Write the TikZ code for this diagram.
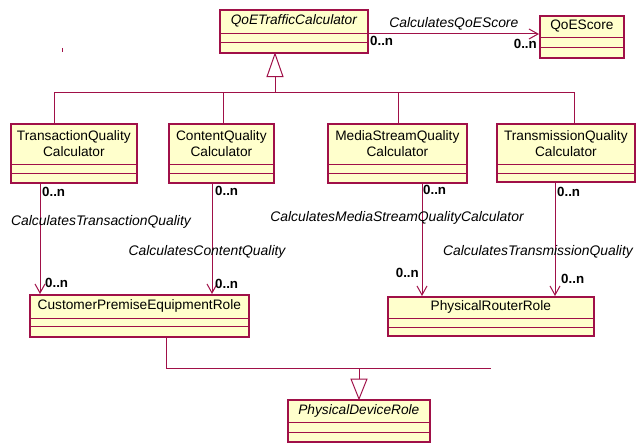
\documentclass[tikz,border=0pt]{standalone}
\usepackage{fontspec}
\setmainfont{Liberation Sans}
\usetikzlibrary{arrows.meta,calc}
\definecolor{umlred}{RGB}{160,16,72}
\definecolor{umlfill}{RGB}{255,255,204}
\tikzset{
 box/.style={draw=umlred, line width=1.7pt, fill=umlfill, inner sep=0pt, anchor=north west},
 sepline/.style={draw=umlred, line width=0.9pt},
 clsname/.style={inner sep=0pt, align=center, font=\fontsize{13.7}{16}\selectfont},
 conn/.style={draw=umlred, line width=1pt},
 assoc/.style={conn, -{Straight Barb[length=9pt,width=10pt,line width=1pt]}},
 gentri/.style={draw=umlred, line width=1pt, fill=white},
 lbl/.style={inner sep=0pt, font=\fontsize{13.9}{16}\selectfont\itshape},
 mult/.style={inner sep=0pt, font=\fontsize{13.3}{15}\selectfont\bfseries},
}
\newcommand\classbox[8]{%
 \node[box, minimum width=#4pt, minimum height={(#5+#6+#7)*1pt}] (#1) at (#2,#3) {};
 \node[clsname] (#1-name) at ([yshift={-(#5)/2*1pt}]#1.north) {#8};
 \draw[sepline] ([yshift={-(#5)*1pt}]#1.north west) -- ([yshift={-(#5)*1pt}]#1.north east);
 \draw[sepline] ([yshift={-(#5+#6)*1pt}]#1.north west) -- ([yshift={-(#5+#6)*1pt}]#1.north east);
}
\begin{document}
\begin{tikzpicture}[x=1pt,y=-1pt]
\useasboundingbox (0,0) rectangle (636,443);
\classbox{qoe}{219}{9}{148}{24}{9}{10}{\itshape QoETrafficCalculator}
\classbox{qs}{539}{15}{84}{22}{10}{10}{QoEScore}
\classbox{tq}{10}{123}{126}{41}{9}{9}{TransactionQuality\\Calculator}
\classbox{cq}{168}{123}{105}{41}{9}{9}{ContentQuality\\Calculator}
\classbox{mq}{327}{123}{139}{41}{9}{9}{MediaStreamQuality\\Calculator}
\classbox{xq}{496}{123}{138}{41}{9}{8}{TransmissionQuality\\Calculator}
\classbox{cpe}{29}{294}{219}{24}{8}{10}{CustomerPremiseEquipmentRole}
\classbox{prr}{387}{296}{206}{22}{9}{8}{PhysicalRouterRole}
\classbox{pdr}{287}{399}{142}{23}{10}{9}{\itshape PhysicalDeviceRole}

% stray tick
\draw[conn] (62,48) -- (62,52);

% QoE score association
\coordinate (qoer) at ([yshift=-25pt]qoe.north east);
\draw[assoc] (qoer) -- (qoer -| qs.west) node[midway, above=3pt, lbl] (lq) {CalculatesQoEScore};
\node[mult, anchor=north west] (mq1) at (370,36) {0..n};
\node[mult, anchor=north east] (mq2) at (537,39) {0..n};

% generalization to QoETrafficCalculator
\coordinate (gtip) at ([xshift=56pt]qoe.south west);
\coordinate (gbus) at ($(gtip)+(0,39)$);
\draw[gentri] (gtip) -- ++(-8,23) -- ++(16,0) -- cycle;
\draw[conn] ($(gtip)+(0,23)$) -- (gbus);
\coordinate (t1) at ([xshift=44pt]tq.north west);
\coordinate (t2) at ([xshift=55pt]cq.north west);
\coordinate (t3) at ([xshift=71pt]mq.north west);
\coordinate (t4) at ([xshift=78pt]xq.north west);
\draw[conn] (t1) |- (t4 |- gbus) -- (t4);
\draw[conn] (t2) -- (t2 |- gbus);
\draw[conn] (t3) -- (t3 |- gbus);

% associations down
\coordinate (a1) at ([xshift=30pt]tq.south west);
\coordinate (a2) at ([xshift=44pt]cq.south west);
\coordinate (a3) at ([xshift=95pt]mq.south west);
\coordinate (a4) at ([xshift=59pt]xq.south west);
\draw[assoc] (a1) -- (a1 |- cpe.north);
\draw[assoc] (a2) -- (a2 |- cpe.north);
\draw[assoc] (a3) -- (a3 |- prr.north);
\draw[assoc] (a4) -- (a4 |- prr.north);

\node[mult, anchor=west] (m1a) at (42,192) {0..n};
\node[lbl] (l1) at (101,222) {CalculatesTransactionQuality};
\node[mult, anchor=west] (m1b) at (45,283) {0..n};
\node[mult, anchor=west] (m2a) at (215,191) {0..n};
\node[lbl] (l2) at (207,252) {CalculatesContentQuality};
\node[mult, anchor=west] (m2b) at (215,284) {0..n};
\node[mult, anchor=west] (m3a) at (423,190) {0..n};
\node[lbl] (l3) at (397,218) {CalculatesMediaStreamQualityCalculator};
\node[mult, anchor=east] (m3b) at (419,273) {0..n};
\node[mult, anchor=west] (m4a) at (557,192) {0..n};
\node[lbl] (l4) at (538,252) {CalculatesTransmissionQuality};
\node[mult, anchor=west] (m4b) at (561,279) {0..n};

% generalization to PhysicalDeviceRole
\coordinate (c1) at ([xshift=137pt]cpe.south west);
\coordinate (busend) at (491,368);
\coordinate (ptip) at ([xshift=72pt]pdr.north west);
\draw[conn] (c1) |- (busend);
\draw[gentri] (ptip) -- ++(-8,-20) -- ++(16,0) -- cycle;
\draw[conn] ($(ptip)+(0,-20)$) -- (ptip |- busend);
\end{tikzpicture}
\end{document}
